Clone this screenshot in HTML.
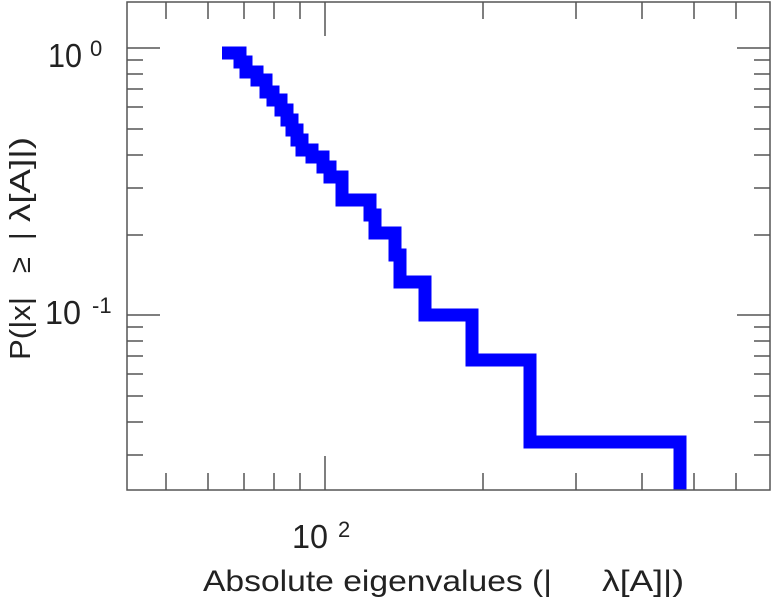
<!DOCTYPE html>
<html><head><style>body{margin:0;background:#fff}svg{display:block}text{white-space:pre}</style></head><body>
<svg width="775" height="600" xmlns="http://www.w3.org/2000/svg" font-family="Liberation Sans, sans-serif" fill="#222">
<defs><clipPath id="c"><rect x="127" y="2" width="643" height="488"/></clipPath></defs>
<path clip-path="url(#c)" fill="none" stroke="#0000ff" stroke-width="13" stroke-linejoin="miter"
d="M222,53 H240 V62 H246 V72 H257 V80 H266 V92 H273 V100 H281 V110 H287 V120 H292 V130 H297 V140 H302 V150 H312 V157 H323 V167 H330 V177 H342 V200 H370 V215 H375 V233 H395 V255 H400 V282 H425 V315 H472 V360 H530 V442 H680 V500"/>
<g stroke="#555" stroke-width="1.5" fill="none">
<rect x="127" y="2" width="643" height="488"/>
<path d="M166,490v-17M208,490v-17M244,490v-17M274,490v-17M300,490v-17M325,490v-34M483,490v-17M576,490v-17M642,490v-17M694,490v-17M736,490v-17
M166,2v17M208,2v17M244,2v17M274,2v17M300,2v17M325,2v34M483,2v17M576,2v17M642,2v17M694,2v17M736,2v17
M127,48h33M127,60h16M127,74h16M127,89h16M127,107h16M127,129h16M127,155h16M127,188h16M127,235h16M127,315h33M127,327h16M127,341h16M127,356h16M127,374h16M127,396h16M127,422h16M127,455h16
M770,48h-33M770,60h-16M770,74h-16M770,89h-16M770,107h-16M770,129h-16M770,155h-16M770,188h-16M770,235h-16M770,315h-33M770,327h-16M770,341h-16M770,356h-16M770,374h-16M770,396h-16M770,422h-16M770,455h-16"/>
</g>
<text x="48" y="67" font-size="33" textLength="34" lengthAdjust="spacingAndGlyphs">10</text>
<text x="90" y="56" font-size="22">0</text>
<text x="45" y="324" font-size="33" textLength="36" lengthAdjust="spacingAndGlyphs">10</text>
<text x="92" y="313" font-size="22">-1</text>
<text x="292" y="548" font-size="33" textLength="36" lengthAdjust="spacingAndGlyphs">10</text>
<text x="338" y="537" font-size="22">2</text>
<text x="203" y="591" font-size="30" textLength="349" lengthAdjust="spacingAndGlyphs">Absolute eigenvalues (|</text>
<text x="602" y="591" font-size="30" textLength="82" lengthAdjust="spacingAndGlyphs">λ[A]|)</text>
<g transform="translate(30,0) rotate(-90)" font-size="29">
<text x="-360" y="0" textLength="63" lengthAdjust="spacingAndGlyphs">P(|x|</text>
<text x="-273" y="0">≥</text>
<text x="-240" y="0">|</text>
<text x="-222" y="0" textLength="85" lengthAdjust="spacingAndGlyphs">λ[A]|)</text>
</g>
</svg>
</body></html>
